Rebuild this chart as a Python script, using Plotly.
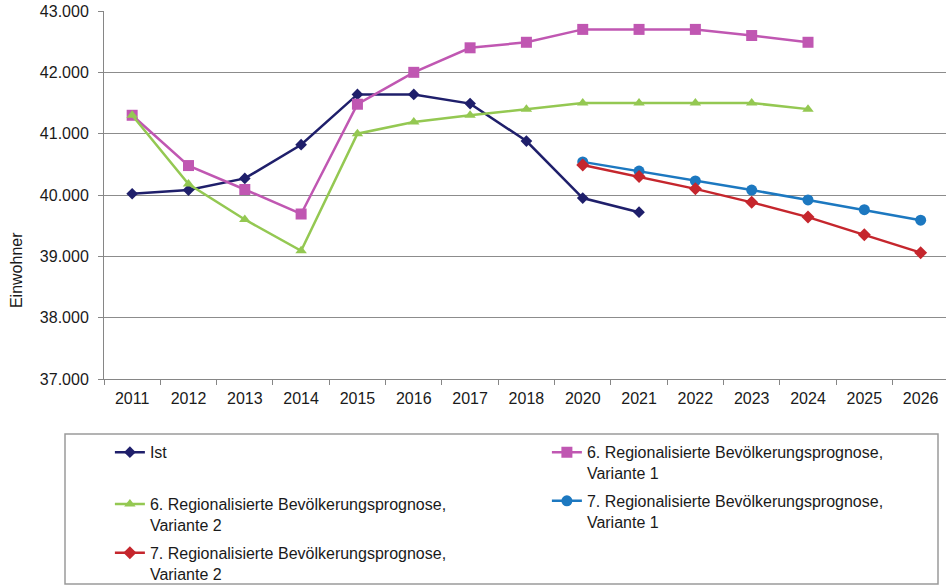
import plotly.graph_objects as go

# categories (2019 is not in the chart)
years = ['2011', '2012', '2013', '2014', '2015', '2016', '2017', '2018',
         '2020', '2021', '2022', '2023', '2024', '2025', '2026']

ist = [40020, 40080, 40270, 40820, 41640, 41640, 41490, 40880,
       39950, 39720, None, None, None, None, None]
rbp6_v1 = [41300, 40480, 40090, 39690, 41480, 42000, 42400, 42490,
           42700, 42700, 42700, 42600, 42490, None, None]
rbp6_v2 = [41300, 40180, 39600, 39090, 41000, 41190, 41300, 41400,
           41500, 41500, 41500, 41500, 41400, None, None]
rbp7_v1 = [None, None, None, None, None, None, None, None,
           40540, 40390, 40230, 40080, 39920, 39760, 39590]
rbp7_v2 = [None, None, None, None, None, None, None, None,
           40490, 40300, 40100, 39880, 39640, 39350, 39060]

names = ['Ist',
         '6. Regionalisierte Bevölkerungsprognose,<br>Variante 1',
         '6. Regionalisierte Bevölkerungsprognose,<br>Variante 2',
         '7. Regionalisierte Bevölkerungsprognose,<br>Variante 1',
         '7. Regionalisierte Bevölkerungsprognose,<br>Variante 2']
series = [ist, rbp6_v1, rbp6_v2, rbp7_v1, rbp7_v2]
colors = ['#1f1f6b', '#c057b2', '#94c852', '#1c78c0', '#c5262d']
symbols = ['diamond', 'square', 'triangle-up', 'circle', 'diamond']
sizes = [9, 11, 10, 11, 10]
legends = ['legend3', 'legend2', 'legend', 'legend2', 'legend']

FONT = 'Liberation Sans, Arial, sans-serif'

fig = go.Figure()
for i in range(len(series)):
    fig.add_trace(go.Scatter(
        x=years, y=series[i], name=names[i],
        mode='lines+markers',
        line=dict(color=colors[i], width=2.5),
        marker=dict(symbol=symbols[i], size=sizes[i], color=colors[i]),
        legend=legends[i], legendgroup=str(i),
    ))

leg_common = dict(font=dict(family=FONT, size=16, color='#1a1a1a'),
                  bgcolor='rgba(0,0,0,0)', borderwidth=0,
                  valign='top', tracegroupgap=4,
                  traceorder='grouped',
                  xanchor='left', yanchor='top')

fig.update_layout(
    width=946, height=587,
    margin=dict(l=104, r=0, t=11, b=208, autoexpand=False),
    paper_bgcolor='white', plot_bgcolor='white',
    separators=',.',
    font=dict(family=FONT, size=16, color='#1a1a1a'),
    legend=dict(x=0.007, y=-0.294, **leg_common),
    legend2=dict(x=0.526, y=-0.153, **leg_common),
    legend3=dict(x=0.007, y=-0.153, **leg_common),
    xaxis=dict(type='category', categoryorder='array', categoryarray=years,
               range=[-0.5, 14.45], showgrid=False, automargin=False,
               showline=True, linecolor='#868686', linewidth=1,
               ticks='outside', ticklen=5, tickcolor='#868686',
               tickson='boundaries', ticklabelstandoff=5,
               tickfont=dict(family=FONT, size=16, color='#1a1a1a')),
    yaxis=dict(range=[37000, 43000], dtick=1000, tickformat=',d',
               showgrid=True, gridcolor='#8c8c8c', gridwidth=1,
               showline=True, linecolor='#868686', linewidth=1,
               ticks='outside', ticklen=5, tickcolor='#868686',
               zeroline=False, ticklabelstandoff=6, automargin=False,
               ticklabeloverflow='allow',
               tickfont=dict(family=FONT, size=16, color='#1a1a1a')),
    annotations=[dict(text='Einwohner', textangle=-90, showarrow=False,
                      xref='paper', yref='paper', x=-0.1045, y=0.296,
                      xanchor='center', yanchor='middle',
                      font=dict(family=FONT, size=16, color='#1a1a1a'))],
    shapes=[dict(type='rect', xref='paper', yref='paper',
                 x0=(65 - 104) / 842, x1=(938 - 104) / 842,
                 y0=(379 - 434) / 368, y1=(379 - 584) / 368,
                 line=dict(color='#9a9a9a', width=1.5))],
)

# drop the default 8px page margin so the figure fills the window
fig.write_html('out.html',
               config={'displayModeBar': False},
               post_script="document.body.style.margin='0';"
                           "document.body.style.overflow='hidden';")
